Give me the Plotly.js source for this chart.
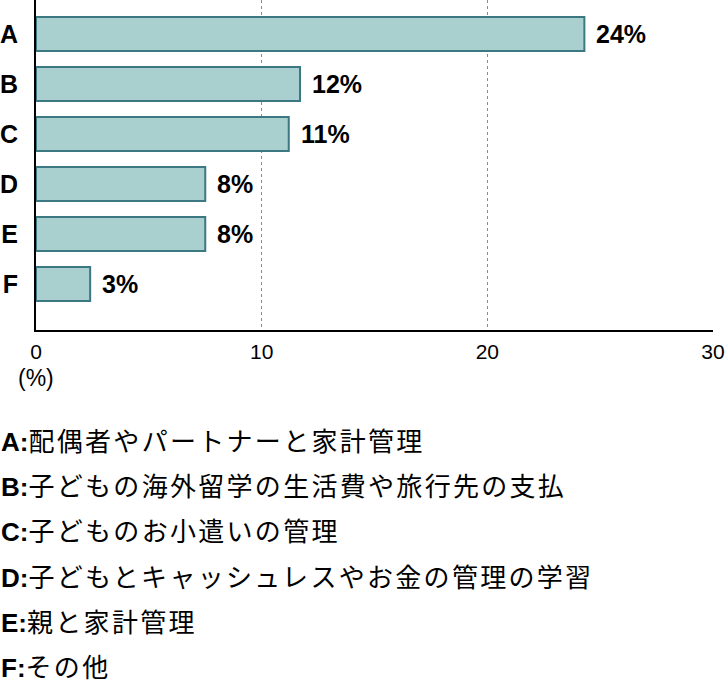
<!DOCTYPE html>
<html>
<head>
<meta charset="utf-8">
<script src="https://cdn.plot.ly/plotly-3.0.1.min.js"></script>
<style>
  html, body { margin: 0; padding: 0; background: #fff; }
  #chart { width: 728px; height: 686px; }
</style>
</head>
<body>
<div id="chart"></div>
<script>
// chart values
var categories = ['A', 'B', 'C', 'D', 'E', 'F'];
var shares = [24.3, 11.7, 11.2, 7.5, 7.5, 2.4];
var shareLabels = ['24%', '12%', '11%', '8%', '8%', '3%'];
var xTicks = [0, 10, 20, 30];
var categoryNames = [
    '配偶者やパートナーと家計管理',
    '子どもの海外留学の生活費や旅行先の支払',
    '子どものお小遣いの管理',
    '子どもとキャッシュレスやお金の管理の学習',
    '親と家計管理',
    'その他'
];

var latin = 'Liberation Sans, Arial, sans-serif';
var cjk = 'Liberation Sans, Noto Sans CJK JP, sans-serif';

var plotHeight = 330;   // px, plot area starts at top of page
function paperY(px)
{
    return (plotHeight - px) / plotHeight;
}

var plotlyData = [
    {
        type: 'bar',
        orientation: 'h',
        x: shares,
        y: categories,
        width: 0.68,
        marker: {
            color: '#a9cfcf',
            line: {color: '#3b7881', width: 2}
        },
        hoverinfo: 'none'
    }
];

var annotations = [];

// value labels at the end of the bars
for(var i = 0; i < categories.length; i++)
{
    annotations.push({
        x: shares[i],
        y: categories[i],
        xref: 'x',
        yref: 'y',
        text: '<b>' + shareLabels[i] + '</b>',
        showarrow: false,
        xanchor: 'left',
        yanchor: 'middle',
        xshift: 10,
        font: {family: latin, size: 25, color: '#000'}
    });
}

// unit below the zero tick
annotations.push({
    x: 0,
    y: paperY(378),
    xref: 'x',
    yref: 'paper',
    text: '(%)',
    showarrow: false,
    xanchor: 'center',
    yanchor: 'middle',
    font: {family: latin, size: 23, color: '#000'}
});

// key under the chart
var firstLine = 442;
var lineStep = 45.2;
for(var j = 0; j < categories.length; j++)
{
    annotations.push({
        x: 0,
        y: paperY(firstLine + j * lineStep),
        xref: 'paper',
        yref: 'paper',
        xshift: -37,
        text: '<b>' + categories[j] + ':</b><span style="letter-spacing:2.3px">' + categoryNames[j] + '</span>',
        showarrow: false,
        xanchor: 'left',
        yanchor: 'middle',
        align: 'left',
        font: {family: cjk, size: 26, color: '#000'}
    });
}

var plotlyLayout = {
    width: 728,
    height: 686,
    margin: {l: 36, r: 15, t: 0, b: 686 - plotHeight, pad: 0},
    paper_bgcolor: '#fff',
    plot_bgcolor: '#fff',
    showlegend: false,
    xaxis: {
        range: [0, 30],
        tickvals: xTicks,
        ticktext: xTicks.map(String),
        ticks: 'outside',
        ticklen: 2,
        tickcolor: 'rgba(0,0,0,0)',
        showgrid: true,
        gridcolor: '#8a8a8a',
        gridwidth: 1.5,
        griddash: 'dot',
        zeroline: false,
        showline: true,
        linecolor: '#000',
        linewidth: 2,
        tickfont: {family: latin, size: 21, color: '#000'},
        fixedrange: true
    },
    yaxis: {
        type: 'category',
        categoryorder: 'array',
        categoryarray: categories,
        range: [5.92, -0.68],
        ticks: 'outside',
        ticklen: 11,
        tickcolor: 'rgba(0,0,0,0)',
        showgrid: false,
        zeroline: false,
        showline: true,
        linecolor: '#000',
        linewidth: 2,
        tickfont: {family: latin, size: 25, color: '#000', weight: 'bold'},
        fixedrange: true
    },
    annotations: annotations
};

var plotlyConfig = {
    displayModeBar: false,
    staticPlot: true
};

Plotly.newPlot('chart', plotlyData, plotlyLayout, plotlyConfig);
</script>
</body>
</html>
